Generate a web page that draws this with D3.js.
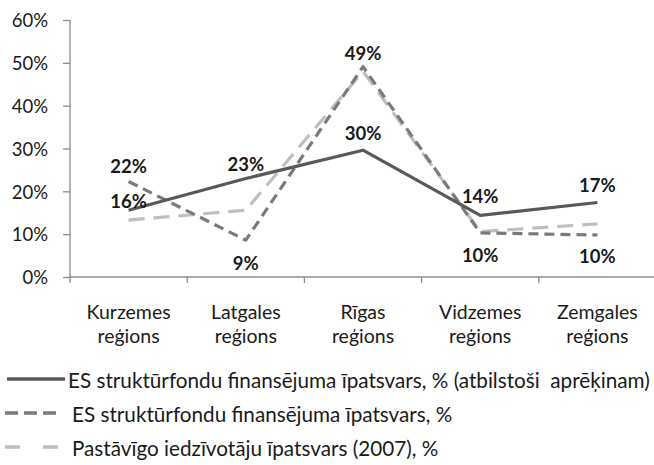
<!DOCTYPE html>
<html><head><meta charset="utf-8">
<script src="https://cdn.jsdelivr.net/npm/d3@7"></script>
<style>
html,body{margin:0;padding:0;background:#fff;}
svg{display:block;}
text{font-family:Lato,"Open Sans",sans-serif;fill:#1a1a1a;}
</style></head>
<body>
<svg id="chart" width="654" height="465"></svg>
<script>
const categories = ["Kurzemes reģions","Latgales reģions","Rīgas reģions","Vidzemes reģions","Zemgales reģions"];
const seriesNames = [
  "ES struktūrfondu finansējuma īpatsvars, % (atbilstoši  aprēķinam)",
  "ES struktūrfondu finansējuma īpatsvars, %",
  "Pastāvīgo iedzīvotāju īpatsvars (2007), %"
];
const calcShare = [15.6, 23.0, 29.6, 14.4, 17.4];
const fundShare = [22.3, 8.6, 49.1, 10.3, 9.8];
const popShare  = [13.3, 15.6, 48.0, 10.6, 12.4];
const yTicks = [0, 10, 20, 30, 40, 50, 60];

const svg = d3.select("#chart");
const x = d3.scaleBand().domain(categories).range([70, 656]);
const y = d3.scaleLinear().domain([0, 60]).range([277, 20]);

// y axis
const yAxis = svg.append("g").attr("transform","translate(70,0)")
  .call(d3.axisLeft(y).tickValues(yTicks).tickSize(7).tickPadding(15).tickFormat(d => d + "%"));
yAxis.selectAll("path,line").attr("stroke","#8c8c8c").attr("stroke-width",1.3);
yAxis.select(".domain").attr("d","M0,277V20");
yAxis.selectAll("text").attr("font-size",18.5).attr("font-family","Lato").attr("fill","#1a1a1a").attr("dy","0.36em");

// x axis
const xg = svg.append("g").attr("transform","translate(0,277)");
xg.append("line").attr("x1",70).attr("x2",656).attr("stroke","#8c8c8c").attr("stroke-width",1.3);
const bounds = categories.map(c => x(c)).concat([x.range()[1]]);
xg.selectAll("line.tk").data(bounds).join("line").attr("class","tk")
  .attr("x1",d=>d).attr("x2",d=>d).attr("y1",0).attr("y2",6)
  .attr("stroke","#8c8c8c").attr("stroke-width",1.3);
const xl = svg.append("g").selectAll("text").data(categories).join("text")
  .attr("x", d => x(d) + x.bandwidth()/2).attr("text-anchor","middle").attr("font-size",19.5);
xl.append("tspan").attr("x", d => x(d) + x.bandwidth()/2).attr("y",319).text(d => d.split(" ")[0]);
xl.append("tspan").attr("x", d => x(d) + x.bandwidth()/2).attr("y",343).text(d => d.split(" ")[1]);

const cx = (d,i) => x(categories[i]) + x.bandwidth()/2;
const line = d3.line().x((d,i)=>cx(d,i)).y(d=>y(d));

const styles = [
  {data: calcShare, color:"#595959", dash:null, width:3.2},
  {data: fundShare, color:"#7a7a7a", dash:"10,6", width:3.2},
  {data: popShare,  color:"#bfbfbf", dash:"16,9", width:3.2}
];
[2,1,0].forEach(k => {
  const s = styles[k];
  svg.append("path").datum(s.data).attr("d", line).attr("fill","none")
    .attr("stroke", s.color).attr("stroke-width", s.width)
    .attr("stroke-dasharray", s.dash).attr("stroke-linejoin","round");
});

// data labels
const labels = [];
const calcDy = [-2, -7.5, -10, -12, -10];
const fundDy = [-8.5, 30, -7, 29, 28];
calcShare.forEach((v,i)=> labels.push({x:cx(v,i), y:y(v)+calcDy[i], t:Math.round(v)+"%"}));
fundShare.forEach((v,i)=> labels.push({x:cx(v,i), y:y(v)+fundDy[i], t:Math.round(v)+"%"}));
svg.append("g").selectAll("text").data(labels).join("text")
  .attr("x",d=>d.x).attr("y",d=>d.y).attr("text-anchor","middle")
  .attr("font-size",18.5).attr("font-weight","bold").text(d=>d.t);

// legend
const leg = svg.append("g");
const legY = [379, 413, 447];
const legX = [[7,65],[5,60],[5,60]];
styles.forEach((s,i)=>{
  leg.append("line").attr("x1",legX[i][0]).attr("x2",legX[i][1]).attr("y1",legY[i]).attr("y2",legY[i])
    .attr("stroke",s.color).attr("stroke-width",3.6)
    .attr("stroke-dasharray", i===1 ? "13,6" : (i===2 ? "15,23" : null));
  leg.append("text").attr("x", i===0 ? 68 : 72).attr("y", legY[i]+9)
    .attr("font-size",20.7).style("white-space","pre").text(seriesNames[i]);
});
</script>
</body></html>
